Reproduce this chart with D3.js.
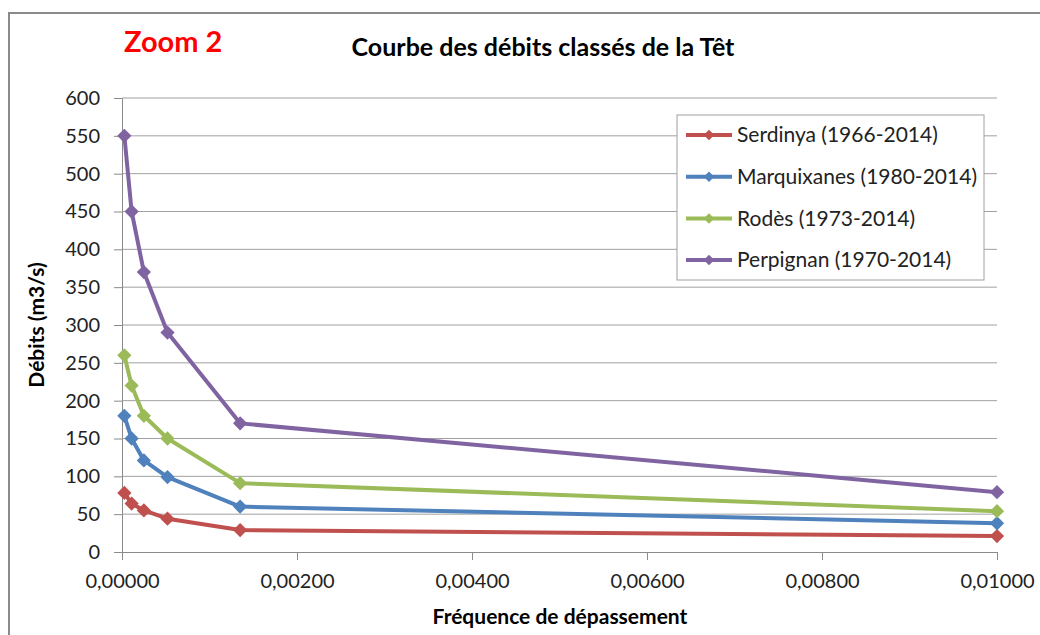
<!DOCTYPE html>
<html>
<head>
<meta charset="utf-8">
<script src="https://cdn.jsdelivr.net/npm/d3@7"></script>
<style>
  body { margin: 0; background: #fff; }
  svg { display: block; font-family: Lato, "Open Sans", sans-serif; }
</style>
</head>
<body>
<div id="chart"></div>
<script>
// ── Data ──
const freq = [0.000027, 0.00011, 0.00025, 0.00052, 0.00135, 0.01];
const serdinya = [78, 64, 55, 44, 29, 21];
const marquixanes = [180, 150, 121, 99, 60, 38];
const rodes = [260, 220, 180, 150, 91, 54];
const perpignan = [550, 450, 370, 290, 170, 79];
const seriesNames = [
  "Serdinya (1966-2014)",
  "Marquixanes (1980-2014)",
  "Rodès (1973-2014)",
  "Perpignan (1970-2014)",
];
const seriesColors = ["#C0504D", "#4F81BD", "#9BBB59", "#8064A2"];
const xTicks = [0, 0.002, 0.004, 0.006, 0.008, 0.01];
const yTicks = [0, 50, 100, 150, 200, 250, 300, 350, 400, 450, 500, 550, 600];

const series = [serdinya, marquixanes, rodes, perpignan].map((vals, i) => ({
  name: seriesNames[i],
  color: seriesColors[i],
  pts: vals.map((v, j) => ({ f: freq[j], q: v })),
}));

// ── Layout ──
const W = 1040, H = 635;
const M = { t: 98, r: 43, b: 83, l: 122 };
const w = W - M.l - M.r;
const h = H - M.t - M.b;

const svg = d3.select("#chart").append("svg")
  .attr("width", W).attr("height", H);

// outer chart frame
svg.append("rect")
  .attr("x", 9).attr("y", 13)
  .attr("width", W + 20).attr("height", H + 20)
  .attr("fill", "none").attr("stroke", "#8a8a8a").attr("stroke-width", 2);

const g = svg.append("g").attr("transform", `translate(${M.l},${M.t})`);

const x = d3.scaleLinear().domain([0, 0.01]).range([0, w]);
const y = d3.scaleLinear().domain([0, 600]).range([h, 0]);

// ── Grid ──
g.append("g")
  .selectAll("line")
  .data(yTicks.filter((d) => d > 0))
  .join("line")
  .attr("x1", 0).attr("x2", w)
  .attr("y1", (d) => y(d)).attr("y2", (d) => y(d))
  .attr("stroke", "#a0a0a0").attr("stroke-width", 1);

// ── Axes ──
const yAxis = g.append("g")
  .call(d3.axisLeft(y).tickValues(yTicks).tickSize(8).tickPadding(14).tickFormat(d3.format("d")));
yAxis.select(".domain").attr("stroke", "#8a8a8a");
yAxis.selectAll(".tick line").attr("stroke", "#8a8a8a");
yAxis.selectAll("text")
  .attr("fill", "#222").style("font-size", "20px")
  .style("font-family", "Lato, sans-serif");

const xAxis = g.append("g")
  .attr("transform", `translate(0,${h})`)
  .call(d3.axisBottom(x).tickValues(xTicks).tickSize(8).tickPadding(14)
    .tickFormat((d) => d.toFixed(5).replace(".", ",")));
xAxis.select(".domain").attr("stroke", "#8a8a8a");
xAxis.selectAll(".tick line").attr("stroke", "#8a8a8a");
xAxis.selectAll("text")
  .attr("fill", "#222").style("font-size", "20px")
  .style("font-family", "Lato, sans-serif");

// ── Lines + markers ──
const line = d3.line().x((d) => x(d.f)).y((d) => y(d.q));
const diamond = d3.symbol().type(d3.symbolDiamond2).size(130);

series.forEach((s) => {
  g.append("path")
    .datum(s.pts)
    .attr("d", line)
    .attr("fill", "none")
    .attr("stroke", s.color)
    .attr("stroke-width", 4)
    .attr("stroke-linejoin", "round");

  g.selectAll(null)
    .data(s.pts)
    .join("path")
    .attr("d", diamond)
    .attr("transform", (d) => `translate(${x(d.f)},${y(d.q)})`)
    .attr("fill", s.color);
});

// ── Legend ──
const lg = svg.append("g").attr("transform", "translate(677,115)");
lg.append("rect")
  .attr("width", 307).attr("height", 165)
  .attr("fill", "#fff").attr("stroke", "#a0a0a0").attr("stroke-width", 1);

series.forEach((s, i) => {
  const ly = 20 + i * 41.7;
  lg.append("line")
    .attr("x1", 9).attr("x2", 55).attr("y1", ly).attr("y2", ly)
    .attr("stroke", s.color).attr("stroke-width", 4);
  lg.append("path")
    .attr("d", d3.symbol().type(d3.symbolDiamond2).size(70))
    .attr("transform", `translate(32,${ly})`)
    .attr("fill", s.color);
  lg.append("text")
    .attr("x", 60).attr("y", ly)
    .attr("dy", "0.35em")
    .attr("fill", "#222")
    .style("font-size", "21px")
    .text(s.name);
});

// ── Titles ──
svg.append("text")
  .attr("x", 124).attr("y", 52)
  .attr("fill", "#ff0000")
  .style("font-size", "29px").style("font-weight", "bold")
  .text("Zoom 2");

svg.append("text")
  .attr("x", 543).attr("y", 56)
  .attr("text-anchor", "middle")
  .attr("fill", "#000")
  .style("font-size", "25px").style("font-weight", "bold")
  .text("Courbe des débits classés de la Têt");

svg.append("text")
  .attr("transform", `translate(44,${M.t + h / 2}) rotate(-90)`)
  .attr("text-anchor", "middle")
  .attr("fill", "#000")
  .style("font-size", "21px").style("font-weight", "bold")
  .text("Débits (m3/s)");

svg.append("text")
  .attr("x", 560).attr("y", 624)
  .attr("text-anchor", "middle")
  .attr("fill", "#000")
  .style("font-size", "21px").style("font-weight", "bold")
  .text("Fréquence de dépassement");
</script>
</body>
</html>
